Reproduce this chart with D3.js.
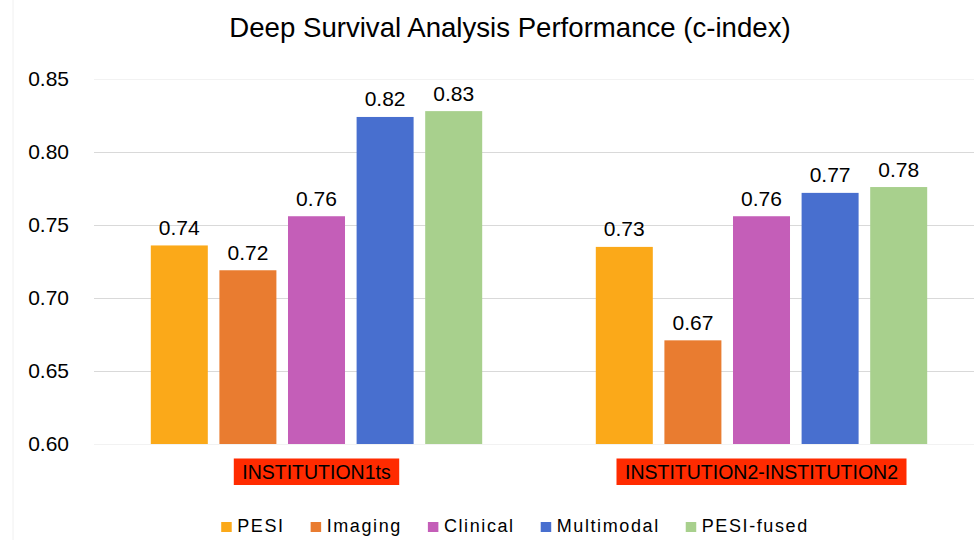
<!DOCTYPE html>
<html>
<head>
<meta charset="utf-8">
<script src="https://cdn.jsdelivr.net/npm/d3@7"></script>
<style>
  html, body { margin: 0; padding: 0; background: #fff; }
  svg { display: block; font-family: "Liberation Sans", Arial, sans-serif; }
</style>
</head>
<body>
<svg id="chart" width="974" height="540"></svg>
<script>
const title = "Deep Survival Analysis Performance (c-index)";
const categories = ["INSTITUTION1ts", "INSTITUTION2-INSTITUTION2"];
const seriesNames = ["PESI", "Imaging", "Clinical", "Multimodal", "PESI-fused"];
const seriesColors = ["#FBA919", "#E97C30", "#C45EB8", "#486FCF", "#A8D08D"];
const pesi = [0.736, 0.735];
const imaging = [0.719, 0.671];
const clinical = [0.756, 0.756];
const multimodal = [0.824, 0.772];
const pesiFused = [0.828, 0.776];
const yTicks = [0.60, 0.65, 0.70, 0.75, 0.80, 0.85];

const seriesValues = [pesi, imaging, clinical, multimodal, pesiFused];

const svg = d3.select("#chart");
const W = 974, H = 540;

// faint outer border
svg.append("line").attr("x1", 13).attr("x2", 13).attr("y1", 0).attr("y2", H)
  .attr("stroke", "#f0f0f0").attr("stroke-width", 1);

const x0 = d3.scaleBand().domain(categories).range([94, 984]).padding(0);
const x1 = d3.scaleBand().domain(seriesNames).range([0, x0.bandwidth()])
  .paddingInner(0.169).paddingOuter(0.828);
const y = d3.scaleLinear().domain([0.60, 0.85]).range([444, 79]);

// gridlines
svg.append("g").selectAll("line").data(yTicks).join("line")
  .attr("x1", 94).attr("x2", W)
  .attr("y1", d => Math.round(y(d)) + 0.5).attr("y2", d => Math.round(y(d)) + 0.5)
  .attr("stroke", d => (d === 0.85 || d === 0.60) ? "#f2f2f2" : "#d9d9d9")
  .attr("stroke-width", 1);

// y axis labels via d3 axis
const yAxis = d3.axisLeft(y).tickValues(yTicks).tickFormat(d3.format(".2f")).tickSize(0).tickPadding(0);
const gy = svg.append("g").attr("transform", "translate(69,0)").call(yAxis);
gy.select(".domain").remove();
gy.selectAll("text").attr("font-size", 21).attr("fill", "#000")
  .attr("font-family", "Liberation Sans, Arial, sans-serif").attr("dy", "0.33em");

// title
svg.append("text").attr("x", 510).attr("y", 36.5).attr("text-anchor", "middle")
  .attr("font-size", 27.6).attr("fill", "#000").text(title);

// bars
const data = [];
categories.forEach((c, ci) => seriesNames.forEach((s, si) => {
  data.push({ cat: c, series: s, value: seriesValues[si][ci], color: seriesColors[si] });
}));

const groups = svg.append("g");
groups.selectAll("rect").data(data).join("rect")
  .attr("x", d => x0(d.cat) + x1(d.series))
  .attr("y", d => y(d.value))
  .attr("width", x1.bandwidth())
  .attr("height", d => y(0.60) - y(d.value))
  .attr("fill", d => d.color);

groups.selectAll("text.val").data(data).join("text").attr("class", "val")
  .attr("x", d => x0(d.cat) + x1(d.series) + x1.bandwidth() / 2)
  .attr("y", d => y(d.value) - 10.5)
  .attr("text-anchor", "middle").attr("font-size", 21).attr("fill", "#000")
  .text(d => d3.format(".2f")(d.value));

// category labels with red boxes
categories.forEach(c => {
  const cx = x0(c) + x0.bandwidth() / 2;
  const g = svg.append("g");
  const t = g.append("text").attr("x", cx).attr("y", 479).attr("text-anchor", "middle")
    .attr("font-size", 19.5).attr("fill", "#000").text(c);
  const w = t.node().getComputedTextLength();
  g.insert("rect", "text").attr("x", cx - w / 2 - 8.5).attr("y", 458.5)
    .attr("width", w + 17).attr("height", 26.5).attr("fill", "#FF2B00");
});

// legend
const legend = svg.append("g");
const items = [];
let cur = 0;
seriesNames.forEach((s, i) => {
  const g = legend.append("g");
  g.append("rect").attr("x", cur).attr("y", 522).attr("width", 10.5).attr("height", 10).attr("fill", seriesColors[i]);
  const t = g.append("text").attr("x", cur + 16).attr("y", 531.5).attr("font-size", 18)
    .attr("letter-spacing", "1.6px").attr("fill", "#000").text(s);
  const w = t.node().getComputedTextLength();
  cur += 16 + w + 26;
});
const totalW = cur - 26;
legend.attr("transform", `translate(${515 - totalW / 2},0)`);
</script>
</body>
</html>
